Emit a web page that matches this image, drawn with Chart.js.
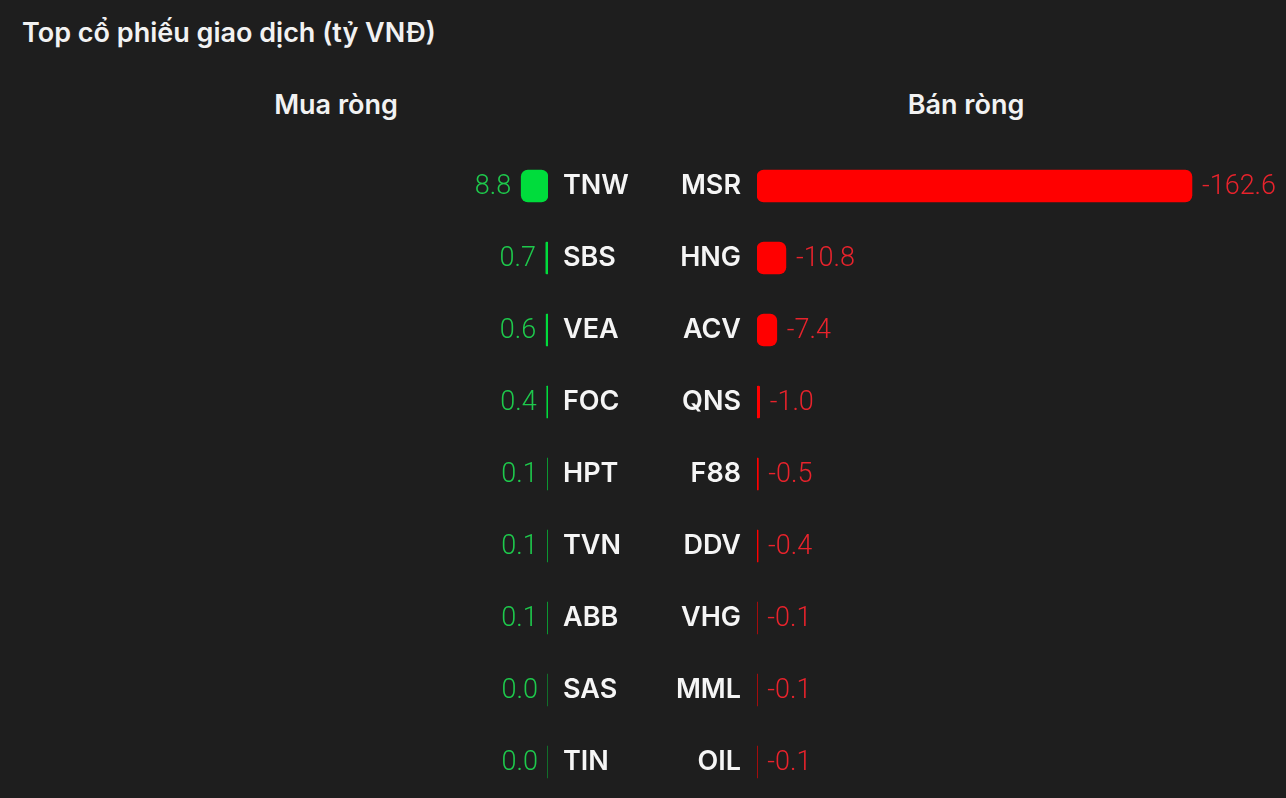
<!DOCTYPE html>
<html>
<head>
<meta charset="utf-8">
<script src="https://cdn.jsdelivr.net/npm/chart.js@4"></script>
<style>
  html, body { margin:0; padding:0; background:#1e1e1e; width:1286px; height:798px; overflow:hidden; }
  #title { position:absolute; left:22px; top:16px; color:#f2f2f2; font:600 27px "Inter", "Noto Sans", sans-serif; white-space:nowrap; }
  .head { position:absolute; top:88px; color:#f2f2f2; font:600 27px "Inter", "Noto Sans", sans-serif; transform:translateX(-50%); white-space:nowrap; }
  #cl { position:absolute; left:0; top:0; }
  #cr { position:absolute; left:650px; top:0; }
</style>
</head>
<body>
<div id="title">Top cổ phiếu giao dịch (tỷ VNĐ)</div>
<div class="head" style="left:336px">Mua ròng</div>
<div class="head" style="left:966px">Bán ròng</div>
<canvas id="cl" width="650" height="798"></canvas>
<canvas id="cr" width="636" height="798"></canvas>
<script>
const buyTickers = ['TNW','SBS','VEA','FOC','HPT','TVN','ABB','SAS','TIN'];
const buyValues = [8.8, 0.7, 0.6, 0.4, 0.1, 0.1, 0.1, 0.03, 0.03];
const sellTickers = ['MSR','HNG','ACV','QNS','F88','DDV','VHG','MML','OIL'];
const sellValues = [-162.6, -10.8, -7.4, -1.0, -0.5, -0.4, -0.1, -0.1, -0.1];
const scaleMax = 180;

const tickFont = { family: 'Inter, "Noto Sans", sans-serif', size: 27, weight: '600' };
const valueFont = '300 27px Roboto, "Noto Sans", sans-serif';

function valueLabels(color, side) {
  return {
    id: 'valueLabels' + side,
    afterDatasetsDraw(chart) {
      const ctx = chart.ctx;
      const meta = chart.getDatasetMeta(0);
      const data = chart.data.datasets[0].data;
      ctx.save();
      ctx.font = valueFont;
      ctx.fillStyle = color;
      ctx.textBaseline = 'middle';
      meta.data.forEach((bar, i) => {
        const txt = data[i].toFixed(1);
        if (side === 'left') {
          ctx.textAlign = 'right';
          ctx.fillText(txt, Math.min(bar.x, bar.base) - 10, bar.y + 1);
        } else {
          ctx.textAlign = 'left';
          ctx.fillText(txt, Math.max(bar.x, bar.base) + 10, bar.y + 1);
        }
      });
      ctx.restore();
    }
  };
}

function fixY(width) {
  return function (s) {
    s.width = width;
    s.paddingTop = 0;
    s.paddingBottom = 0;
  };
}

Chart.defaults.animation = false;
Chart.defaults.responsive = false;
Chart.defaults.maintainAspectRatio = false;
Chart.defaults.devicePixelRatio = 1;

new Chart(document.getElementById('cl'), {
  type: 'bar',
  data: {
    labels: buyTickers,
    datasets: [{
      data: buyValues,
      backgroundColor: '#00dc3c',
      borderRadius: 7,
      borderSkipped: false,
      barThickness: 32
    }]
  },
  options: {
    indexAxis: 'y',
    layout: { padding: { top: 150, bottom: 0, left: 0, right: 0 } },
    plugins: { legend: { display: false }, tooltip: { enabled: false } },
    scales: {
      x: { display: false, min: 0, max: scaleMax, reverse: true },
      y: {
        position: 'right',
        grid: { display: false, drawTicks: false },
        border: { display: false },
        ticks: { color: '#f5f5f5', font: tickFont, padding: 15 },
        afterFit: fixY(102)
      }
    }
  },
  plugins: [valueLabels('#1ec94c', 'left')]
});

new Chart(document.getElementById('cr'), {
  type: 'bar',
  data: {
    labels: sellTickers,
    datasets: [{
      data: sellValues,
      backgroundColor: '#ff0000',
      borderRadius: 7,
      borderSkipped: false,
      barThickness: 32
    }]
  },
  options: {
    indexAxis: 'y',
    layout: { padding: { top: 150, bottom: 0, left: 0, right: 47.5 } },
    plugins: { legend: { display: false }, tooltip: { enabled: false } },
    scales: {
      x: { display: false, min: -scaleMax, max: 0, reverse: true },
      y: {
        position: 'left',
        grid: { display: false, drawTicks: false },
        border: { display: false },
        ticks: { color: '#f5f5f5', font: tickFont, padding: 16 },
        afterFit: fixY(107)
      }
    }
  },
  plugins: [valueLabels('#e8232c', 'right')]
});
</script>
</body>
</html>
